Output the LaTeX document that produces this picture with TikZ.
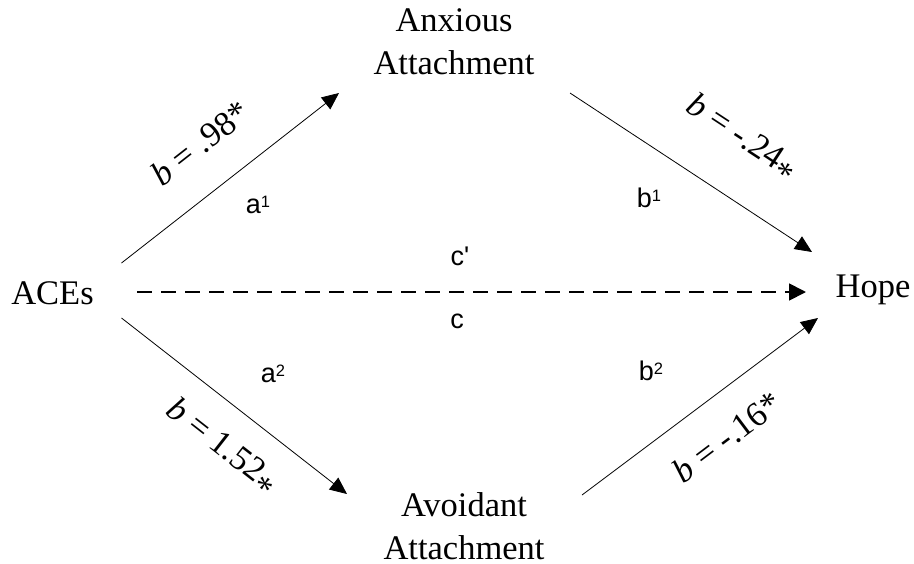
\documentclass[tikz,border=0pt]{standalone}
\usepackage{fontspec}
\setmainfont{Liberation Serif}
\newfontfamily\lsans{Liberation Sans}
\usetikzlibrary{arrows.meta}
\newcommand{\supnum}[1]{\raisebox{5.5pt}{\fontsize{16.5}{16.5}\selectfont #1}}
\newcommand{\lowast}{\raisebox{-0.28em}{*}}
\begin{document}
\begin{tikzpicture}[x=1pt,y=-1pt,
  var/.style={inner sep=0pt, font=\fontsize{34.5}{43}\selectfont, align=center},
  lbl/.style={inner sep=0pt, font=\lsans\fontsize{27}{32}\selectfont, anchor=base},
  coef/.style={inner sep=0pt, font=\fontsize{34.5}{40}\selectfont},
  arr/.style={line width=0.8pt, -{Triangle[length=17pt,width=15pt]}},
  darr/.style={line width=1.8pt, dash pattern=on 15pt off 9pt, -{Triangle[length=17pt,width=17pt]}}]
\useasboundingbox (0,0) rectangle (914,563);
% variables
\node[var, anchor=base] (aces) at (52.5,304) {ACEs};
\node[var, anchor=base] (hope) at (873,297) {Hope};
\node[var] (anx) at (454,41.7) {Anxious\\Attachment};
\node[var] (avo) at (464,525.7) {Avoidant\\Attachment};
% connector end points
\coordinate (a1s) at (121.5,263);
\coordinate (a1e) at (339,93);
\coordinate (b1s) at (570,93);
\coordinate (b1e) at (812,252);
\coordinate (a2s) at (121.5,318);
\coordinate (a2e) at (347,494);
\coordinate (b2s) at (582,495);
\coordinate (b2e) at (818,318);
\coordinate (cs) at (137,292);
\coordinate (ce) at (806,292);
% connectors
\draw[arr] (a1s) -- (a1e);
\draw[arr] (b1s) -- (b1e);
\draw[arr] (a2s) -- (a2e);
\draw[arr] (b2s) -- (b2e);
\draw[darr] (cs) -- (ce);
% path labels
\node[lbl] (la1) at (258,213) {a\supnum{1}};
\node[lbl] (lb1) at (649,207) {b\supnum{1}};
\node[lbl] (la2) at (273,382) {a\supnum{2}};
\node[lbl] (lb2) at (651,380) {b\supnum{2}};
\node[lbl] (lcp) at (460,265) {c'};
\node[lbl] (lc) at (457,328) {c};
% coefficients
\node[coef, rotate=38] (k1) at (200,143) {\textit{b} = .98*};
\node[coef, rotate=-33.3] (k2) at (741,139) {\textit{b} = -.24\lowast};
\node[coef, rotate=-38] (k3) at (221,448) {\textit{b} = 1.52\lowast};
\node[coef, rotate=37] (k4) at (727,437) {\textit{b} = -.16*};
\end{tikzpicture}
\end{document}
